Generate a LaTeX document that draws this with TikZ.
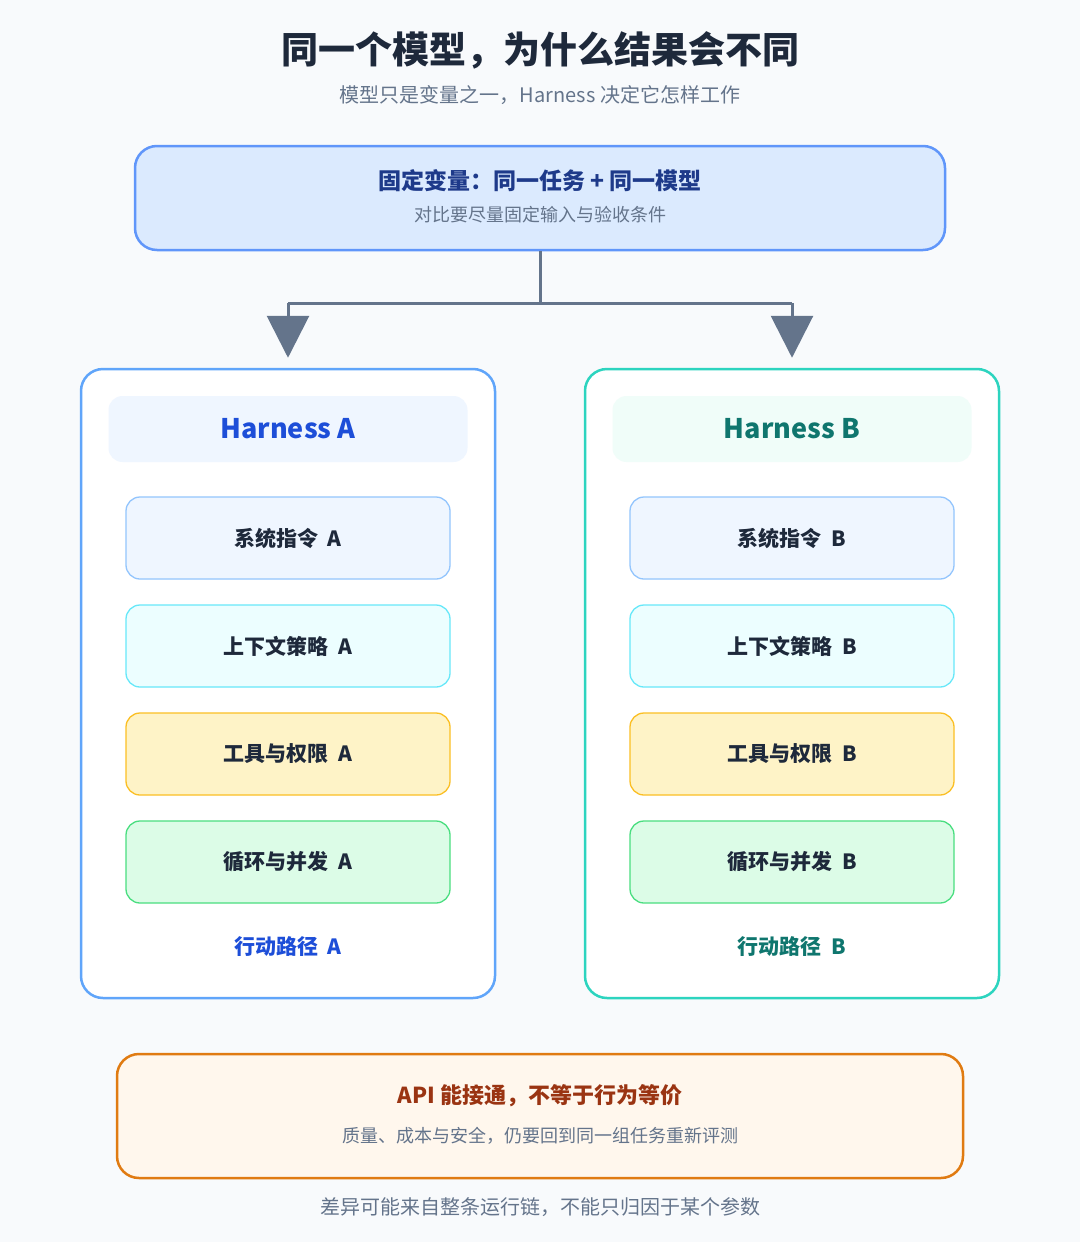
\documentclass[tikz,border=0pt]{standalone}
\usepackage{fontspec}
\setmainfont{Noto Sans CJK SC}
\usetikzlibrary{arrows.meta}
\definecolor{bg}{HTML}{F8FAFC}
\definecolor{dark}{HTML}{1E293B}
\definecolor{gray}{HTML}{64748B}
\definecolor{conn}{HTML}{64748B}
\begin{document}
\begin{tikzpicture}[x=1pt,y=-1pt,
  box/.style={rounded corners=14pt,line width=1.3pt,inner sep=0pt},
  item/.style={box,minimum width=324pt,minimum height=82pt,font=\fontsize{21}{25}\selectfont\bfseries,text=dark},
  panel/.style={rounded corners=22pt,line width=2.5pt,fill=white,minimum width=414pt,minimum height=629pt},
  head/.style={rounded corners=14pt,minimum width=359pt,minimum height=66pt,font=\fontsize{27}{31}\selectfont\bfseries},
  lab/.style={font=\fontsize{21}{25}\selectfont\bfseries}]
\fill[bg] (0,0) rectangle (1080,1242);
\node[font=\fontsize{37}{42}\selectfont\bfseries,text=dark] (title) at (540,50) {同一个模型，为什么结果会不同};
\node[font=\fontsize{20}{24}\selectfont,text=gray] (sub) at (540,95) {模型只是变量之一，Harness 决定它怎样工作};
\node[box,rounded corners=22pt,line width=2.5pt,draw={rgb,255:red,96;green,150;blue,250},fill={rgb,255:red,219;green,234;blue,254},minimum width=810pt,minimum height=104pt] (top) at (540,198) {};
\node[font=\fontsize{23}{27}\selectfont\bfseries,text={rgb,255:red,30;green,58;blue,138}] (toptitle) at (540,181) {固定变量：同一任务 + 同一模型};
\node[font=\fontsize{18}{21}\selectfont,text=gray] (topsub) at (540,215) {对比要尽量固定输入与验收条件};
% panels
\node[panel,draw={rgb,255:red,96;green,165;blue,250}] (pa) at (288,683.5) {};
\node[panel,draw={rgb,255:red,45;green,212;blue,191}] (pb) at (792,683.5) {};
\coordinate (split) at (540,303);
\coordinate (la) at (288,303);
\coordinate (lb) at (792,303);
\draw[conn,line width=3pt] (top.south) -- (split);
\draw[conn,line width=3pt] (la) -- (lb);
\draw[conn,line width=3pt,shorten >=10pt,-{Triangle[width=42pt,length=42pt]}] (la) -- (pa.north);
\draw[conn,line width=3pt,shorten >=10pt,-{Triangle[width=42pt,length=42pt]}] (lb) -- (pb.north);
\node[head,fill={rgb,255:red,239;green,246;blue,255},text={rgb,255:red,29;green,78;blue,216}] (ha) at (288,429) {Harness A};
\node[head,fill={rgb,255:red,240;green,253;blue,249},text={rgb,255:red,15;green,118;blue,110}] (hb) at (792,429) {Harness B};
\foreach \x/\s/\n in {288/A/a,792/B/b}{
  \node[item,fill={rgb,255:red,239;green,246;blue,255},draw={rgb,255:red,147;green,197;blue,253}] (s\n) at (\x,538) {系统指令\ \ \s};
  \node[item,fill={rgb,255:red,236;green,254;blue,255},draw={rgb,255:red,103;green,232;blue,249}] (c\n) at (\x,646) {上下文策略\ \ \s};
  \node[item,fill={rgb,255:red,254;green,243;blue,199},draw={rgb,255:red,251;green,191;blue,36}] (t\n) at (\x,754) {工具与权限\ \ \s};
  \node[item,fill={rgb,255:red,220;green,252;blue,231},draw={rgb,255:red,74;green,222;blue,128}] (l\n) at (\x,862) {循环与并发\ \ \s};
}
\node[lab,text={rgb,255:red,29;green,78;blue,216}] (pathA) at (288,946) {行动路径\ \ A};
\node[lab,text={rgb,255:red,15;green,118;blue,110}] (pathB) at (792,946) {行动路径\ \ B};
% bottom
\node[box,rounded corners=22pt,line width=2.5pt,draw={rgb,255:red,224;green,123;blue,18},fill={rgb,255:red,255;green,247;blue,237},minimum width=846pt,minimum height=124pt] (bot) at (540,1116) {};
\node[font=\fontsize{22}{26}\selectfont\bfseries,text={rgb,255:red,154;green,52;blue,18}] (bottitle) at (540,1096) {API 能接通，不等于行为等价};
\node[font=\fontsize{18}{21}\selectfont,text=gray] (botsub) at (540,1136) {质量、成本与安全，仍要回到同一组任务重新评测};
\node[font=\fontsize{20}{24}\selectfont,text=gray] (cap) at (540,1207) {差异可能来自整条运行链，不能只归因于某个参数};
\end{tikzpicture}
\end{document}
